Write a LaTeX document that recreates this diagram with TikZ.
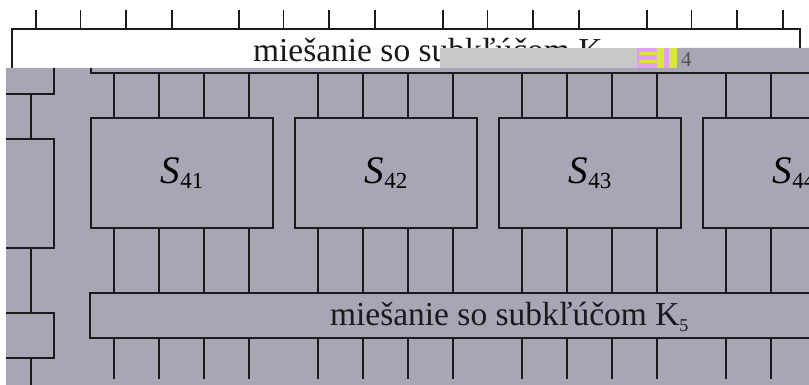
\documentclass[tikz,border=0pt]{standalone}
\usepackage{fontspec}
\setmainfont{Liberation Serif}
\usetikzlibrary{calc}
\definecolor{bg}{RGB}{168,165,180}
\definecolor{glitch}{RGB}{200,200,202}
\definecolor{ink}{RGB}{25,25,30}
\definecolor{gmag}{RGB}{225,160,235}
\definecolor{gyel}{RGB}{215,230,70}
\newcommand\Slab[1]{{\fontsize{39}{39}\selectfont\itshape S}{\fontsize{23}{23}\selectfont\raisebox{-5pt}{#1}}}
\begin{document}
\begin{tikzpicture}[x=1pt,y=-1pt,
  boxline/.style={draw=ink, line width=2pt, inner sep=0pt, outer sep=0pt, rectangle},
  wire/.style={draw=ink, line width=2pt},
  lbl/.style={font=\fontsize{33.5}{33.5}\selectfont, text=ink, inner sep=0pt, outer sep=0pt},
  ]
\useasboundingbox (0,0) rectangle (809,385);
\fill[white] (0,0) rectangle (809,385);
% top white box with ticks
\node[boxline, line width=1.4pt, anchor=north west, minimum width=788pt, minimum height=60pt] (top) at (12,29) {};
\foreach \g in {36,239,443,647} {
  \foreach \o in {0,44.5,90,136} {
    \coordinate (t) at (\g+\o,10);
    \draw[wire, line width=1.4pt] (t) -- (t |- top.north);
  }
}
% gray overlay
\fill[bg] (6,68) -- (677,68) -- (677,48) -- (809,48) -- (809,385) -- (6,385) -- cycle;
% top text (partly hidden)
\node[lbl, anchor=base west] (t4) at (253,62) {miešanie so subkľúčom K};
\fill[glitch] (440,48) rectangle (637,68);
\fill[gmag] (637,48) rectangle (657,68);
\fill[gyel] (639,52) rectangle (657,55);
\fill[gyel] (639,60) rectangle (657,63);
\fill[gyel] (657,48) rectangle (677,68);
\fill[gmag] (664,48) rectangle (669,68);
\node[font=\fontsize{21}{21}\selectfont, text=ink!75, anchor=base west, inner sep=0pt] (sub4) at (681,67) {4};
% gray content
\begin{scope}
\clip (6,68) -- (677,68) -- (677,48) -- (809,48) -- (809,385) -- (6,385) -- cycle;
\node[boxline, anchor=south west, minimum width=1000pt, minimum height=50pt] (k4) at (91,73) {};
\foreach \i/\x in {1/91,2/295,3/499,4/703} {
  \node[boxline, anchor=north west, minimum width=182pt, minimum height=110pt] (s4\i) at (\x,118) {\Slab{4\i}};
}
\node[boxline, anchor=north west, minimum width=1000pt, minimum height=45pt] (k5) at (90,293) {};
\node[lbl, anchor=base west] (t5) at (330,325) {miešanie so subkľúčom K\raisebox{-6pt}{\fontsize{18}{18}\selectfont 5}};
\coordinate (bot) at (0,379);
\foreach \i in {1,2,3,4} {
  \foreach \o in {23,68,113,158} {
    \coordinate (a) at ($(s4\i.north west)+(\o,0)$);
    \coordinate (b) at ($(s4\i.south west)+(\o,0)$);
    \draw[wire] (a) -- (a |- k4.south);
    \draw[wire] (b) -- (b |- k5.north);
    \coordinate (c) at (b |- k5.south);
    \draw[wire] (c) -- (c |- bot);
  }
}
% left boxes
\node[boxline, anchor=north west, minimum width=74pt, minimum height=60pt] (l1) at (-20,34) {};
\node[boxline, anchor=north west, minimum width=74pt, minimum height=109pt] (l2) at (-20,139) {};
\node[boxline, anchor=north west, minimum width=74pt, minimum height=45pt] (l3) at (-20,313) {};
\coordinate (xl) at (31,0);
\coordinate (lend) at (31,390);
\draw[wire] (l1.south -| xl) -- (l2.north -| xl);
\draw[wire] (l2.south -| xl) -- (l3.north -| xl);
\draw[wire] (l3.south -| xl) -- (lend);
\end{scope}
\end{tikzpicture}
\end{document}
